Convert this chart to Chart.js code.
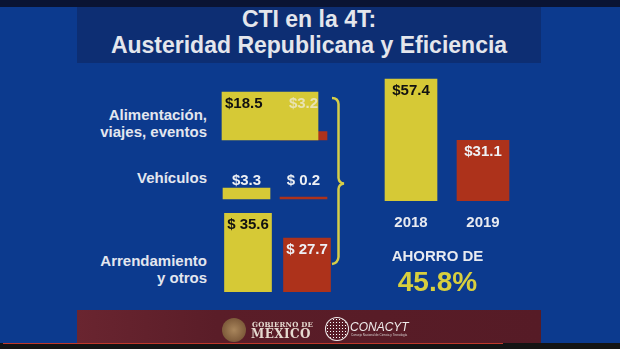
<!DOCTYPE html>
<html>
<head>
<meta charset="utf-8">
<script src="https://cdn.jsdelivr.net/npm/chart.js@4.4.0/dist/chart.umd.min.js"></script>
<style>
  body { margin: 0; width: 620px; height: 349px; overflow: hidden; position: relative;
         background: #0c3a8e; font-family: "Liberation Sans", Arial, sans-serif; }
  .abs { position: absolute; }
  canvas { position: absolute; }
  #barraTop { left: 0; top: 0; width: 620px; height: 7px; background: #0a1433; }
  #titulo { left: 77px; top: 7px; width: 464px; height: 56px; background: #0d2e73; }
  .tit { left: 77px; width: 464px; text-align: center; color: #e4e6ec; font-weight: bold;
         font-size: 23px; line-height: 23px; }
  .cat { left: 40px; width: 167px; text-align: right; color: #e3e6ef; font-weight: bold;
         font-size: 15px; line-height: 16.5px; }
  #ahorro { left: 360px; width: 155px; top: 248px; text-align: center; color: #e8eaf0;
            font-weight: bold; font-size: 15px; line-height: 15px; }
  #pct { left: 360px; width: 155px; top: 268px; text-align: center; color: #d8cf3e;
         font-weight: bold; font-size: 28px; line-height: 28px; }
  #pie { left: 77px; top: 310px; width: 464px; height: 34px;
         background: linear-gradient(90deg, #6a2530 0%, #5a1d28 30%, #561b26 100%); }
  #video { left: 0; top: 343px; width: 620px; height: 6px; background: #141414; }
  #progreso { left: 3px; top: 343px; width: 500px; height: 1px; background: #c0392b; }
  #escudo { left: 222px; top: 318px; width: 24px; height: 24px; border-radius: 50%;
            background: radial-gradient(circle, #a9865c 0%, #7d5a3a 70%, #5e3f2a 100%); }
  #gob1 { left: 252px; top: 321px; font-family: "DejaVu Serif", serif; font-weight: bold;
          font-size: 7px; line-height: 8px; color: #e6dad0; letter-spacing: 0.2px; }
  #gob2 { left: 251px; top: 328px; font-family: "DejaVu Serif", serif; font-weight: bold;
          font-size: 12px; line-height: 13px; color: #e6dad0; letter-spacing: 0.4px; }
  #conLogo { left: 326px; top: 318px; width: 22px; height: 22px; border-radius: 50%;
             background: radial-gradient(circle, #ffffff 35%, rgba(255,255,255,0) 45%) 0 0 / 3px 3px;
             box-shadow: 0 0 0 1px #f2eeee; }
  #con1 { left: 350px; top: 321px; font-style: italic; font-size: 12px; line-height: 12px;
          color: #f0ecec; }
  #con2 { left: 351px; top: 334px; font-size: 3px; line-height: 3px; color: #d8d0d0; }
</style>
</head>
<body>
<div class="abs" id="barraTop"></div>
<div class="abs" id="titulo"></div>
<div class="abs tit" style="top:8px">CTI en la 4T:</div>
<div class="abs tit" style="top:34px">Austeridad Republicana y Eficiencia</div>

<div class="abs cat" id="cat0" style="top:107px"></div>
<div class="abs cat" id="cat1" style="top:170px"></div>
<div class="abs cat" id="cat2" style="top:253px"></div>

<canvas id="fila0" width="145" height="60" style="left:200px;top:85px"></canvas>
<canvas id="fila1" width="145" height="40" style="left:200px;top:165px"></canvas>
<canvas id="fila2" width="145" height="87" style="left:200px;top:205px"></canvas>
<canvas id="total" width="170" height="175" style="left:360px;top:70px"></canvas>

<svg class="abs" style="left:0;top:0" width="620" height="349">
  <path d="M332 98 Q338 98 338.5 104 L338.5 178 Q339 183 344 183.5 Q339 184 338.5 189 L338.5 257 Q338 263 332 264"
        fill="none" stroke="#d6ce48" stroke-width="2.5"/>
</svg>

<div class="abs" id="ahorro">AHORRO DE</div>
<div class="abs" id="pct"></div>

<div class="abs" id="pie"></div>
<div class="abs" id="escudo"></div>
<div class="abs" id="gob1">GOBIERNO DE</div>
<div class="abs" id="gob2">MÉXICO</div>
<div class="abs" id="conLogo"></div>
<div class="abs" id="con1">CONACYT</div>
<div class="abs" id="con2">Consejo Nacional de Ciencia y Tecnología</div>
<div class="abs" id="video"></div>
<div class="abs" id="progreso"></div>

<script>
// datos (millones de pesos)
const categorias = [['Alimentación,', 'viajes, eventos'], ['Vehículos'], ['Arrendamiento', 'y otros']]
const anios = ['2018', '2019']
const gasto2018 = [18.5, 3.3, 35.6]
const gasto2019 = [3.2, 0.2, 27.7]
const prefijo2018 = ['$', '$', '$ ']
const prefijo2019 = ['$', '$ ', '$ ']
const totales = [57.4, 31.1]
const ahorro = 45.8

const AMARILLO = '#d6c936'
const ROJO = '#ad321b'
const FUENTE = '"Liberation Sans", Arial, sans-serif'

categorias.forEach((lineas, i) => {
    document.getElementById('cat' + i).innerHTML = lineas.join('<br>')
})
document.getElementById('pct').textContent = ahorro.toFixed(1) + '%'

const pick = (p, i) => Array.isArray(p) ? p[i] : p

// etiquetas de valor sobre / dentro de las barras
const etiquetas = {
    id: 'etiquetas',
    afterDatasetsDraw(chart, args, opts) {
        const ctx = chart.ctx
        ctx.save()
        ctx.font = 'bold 15px ' + FUENTE
        ctx.textBaseline = 'alphabetic'
        let arriba = Infinity
        chart.data.datasets.forEach((ds, d) => {
            chart.getDatasetMeta(d).data.forEach((bar, i) => {
                if (ds.data[i] != null) arriba = Math.min(arriba, bar.y)
            })
        })
        chart.data.datasets.forEach((ds, d) => {
            chart.getDatasetMeta(d).data.forEach((bar, i) => {
                const v = ds.data[i]
                if (v == null) return
                const top = opts.ancla === 'fila' ? arriba : bar.y
                const y = opts.lado === 'arriba' ? top - 3 : top + 16
                let x = bar.x
                ctx.textAlign = 'center'
                if (ds.alinear === 'left') {
                    x = bar.x - bar.width / 2 + 3
                    ctx.textAlign = 'left'
                }
                ctx.fillStyle = pick(ds.colorEtiqueta, i)
                ctx.fillText(pick(ds.prefijo, i) + v.toFixed(1), x, y)
            })
        })
        ctx.restore()
    }
}

function baseOpciones(padding, ymin, ymax, etq) {
    return {
        responsive: false,
        animation: false,
        events: [],
        layout: { padding },
        plugins: { legend: { display: false }, tooltip: { enabled: false }, etiquetas: etq },
        scales: {
            x: { display: false },
            y: { display: false, min: ymin, max: ymax }
        }
    }
}

// filas del desglose: cada una con su propia escala, como en la lámina
const filas = [
    { padding: { left: 53.25, right: 24.75, top: 0, bottom: 5 }, min: 0, max: 21.2,
      grosor: [96, 47], etq: { ancla: 'fila', lado: 'dentro' },
      colores: ['#111111', '#e9e3b2'], alinear: 'left' },
    { padding: { left: 18, right: 13, top: 0, bottom: 6 }, min: 0, max: 10.2,
      grosor: [47, 47], etq: { ancla: 'fila', lado: 'arriba' },
      colores: ['#eef0f4', '#eef0f4'], alinear: 'center' },
    { padding: { left: 18.5, right: 8.5, top: 0, bottom: 4 }, min: 11.9, max: 38.2,
      grosor: [47, 47], etq: { ancla: 'barra', lado: 'dentro' },
      colores: ['#111111', '#eef0f4'], alinear: 'center' }
]

filas.forEach((f, i) => {
    new Chart(document.getElementById('fila' + i), {
        type: 'bar',
        data: {
            labels: anios,
            datasets: [
                { data: [gasto2018[i], null], backgroundColor: AMARILLO, grouped: false, clip: false,
                  barThickness: f.grosor[0], prefijo: prefijo2018[i], colorEtiqueta: f.colores[0],
                  alinear: f.alinear },
                { data: [null, gasto2019[i]], backgroundColor: ROJO, grouped: false, clip: false,
                  barThickness: f.grosor[1], minBarLength: 2, prefijo: prefijo2019[i],
                  colorEtiqueta: f.colores[1] }
            ]
        },
        options: baseOpciones(f.padding, f.min, f.max, f.etq),
        plugins: [etiquetas]
    })
})

// totales 2018 vs 2019
const opTotal = baseOpciones({ left: 15, right: 11, top: 0, bottom: 0 }, 5, 61.27,
    { ancla: 'barra', lado: 'dentro' })
opTotal.scales.x = {
    display: true,
    grid: { display: false, drawTicks: false },
    border: { display: false },
    ticks: { color: '#e8eaf0', padding: 13, font: { family: FUENTE, size: 15, weight: 'bold' } }
}
new Chart(document.getElementById('total'), {
    type: 'bar',
    data: {
        labels: anios,
        datasets: [{
            data: totales,
            backgroundColor: [AMARILLO, ROJO],
            barThickness: 52,
            prefijo: '$',
            colorEtiqueta: ['#111111', '#eef0f4']
        }]
    },
    options: opTotal,
    plugins: [etiquetas]
})
</script>
</body>
</html>
